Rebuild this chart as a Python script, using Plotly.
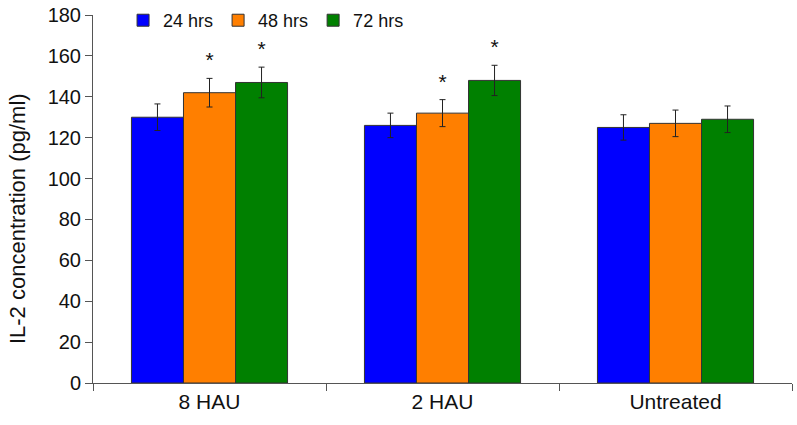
import plotly.graph_objects as go

groups = ["8 HAU", "2 HAU", "Untreated"]
series = ["24 hrs", "48 hrs", "72 hrs"]
values = {
    "24 hrs": [130, 126, 125],
    "48 hrs": [142, 132, 127],
    "72 hrs": [147, 148, 129],
}
errors = {
    "24 hrs": [6.5, 6, 6.2],
    "48 hrs": [7, 6.6, 6.5],
    "72 hrs": [7.5, 7.4, 6.5],
}
# significance marks (* where p < 0.05)
stars = {
    "24 hrs": ["", "", ""],
    "48 hrs": ["*", "*", ""],
    "72 hrs": ["*", "*", ""],
}
colors = {"24 hrs": "#0000FF", "48 hrs": "#FF7F00", "72 hrs": "#008000"}

fig = go.Figure()
for s in series:
    fig.add_trace(go.Bar(
        x=groups, y=values[s], name=s, offsetgroup=s,
        marker=dict(color=colors[s], line=dict(color="#333333", width=1)),
        error_y=dict(type="data", array=errors[s], color="#222222", thickness=1, width=3),
    ))
for s in series:
    star_y = [v + e + 8 for v, e in zip(values[s], errors[s])]
    fig.add_trace(go.Scatter(
        x=groups, y=star_y, text=stars[s], mode="text", offsetgroup=s,
        textfont=dict(size=21, color="#111111"), showlegend=False, hoverinfo="skip",
    ))

fig.update_layout(
    width=797, height=425, autosize=False,
    margin=dict(l=93, r=5, t=15, b=42, autoexpand=False),
    paper_bgcolor="white", plot_bgcolor="white",
    barmode="group", bargap=0.33, bargroupgap=0, scattermode="group",
    font=dict(family="Liberation Sans, Arial, sans-serif", size=20, color="#111111"),
    legend=dict(orientation="h", x=0.043, y=0.985, xanchor="left", yanchor="middle",
                font=dict(size=18), itemwidth=30, bgcolor="rgba(0,0,0,0)"),
)
# y-axis title as an annotation so it can sit a little below centre, like the original
fig.add_annotation(
    text="IL-2 concentration (pg/ml)", textangle=-90, showarrow=False,
    xref="paper", yref="paper", x=-0.107, y=0.446, xanchor="center", yanchor="middle",
    font=dict(size=22, color="#111111"),
)
fig.update_xaxes(
    showline=True, linecolor="#555555", linewidth=1, automargin=False,
    ticks="outside", tickson="boundaries", ticklen=7, tickcolor="#555555",
    showgrid=False, tickfont=dict(size=21),
)
fig.update_yaxes(
    range=[0, 180], dtick=20, showline=True, linecolor="#555555", linewidth=1,
    ticks="outside", ticklen=7, tickcolor="#555555", showgrid=False, zeroline=False,
    tickfont=dict(size=20), automargin=False,
)

fig.write_html("out.html", config={"displayModeBar": False},
               post_script="document.body.style.margin='0px';")
